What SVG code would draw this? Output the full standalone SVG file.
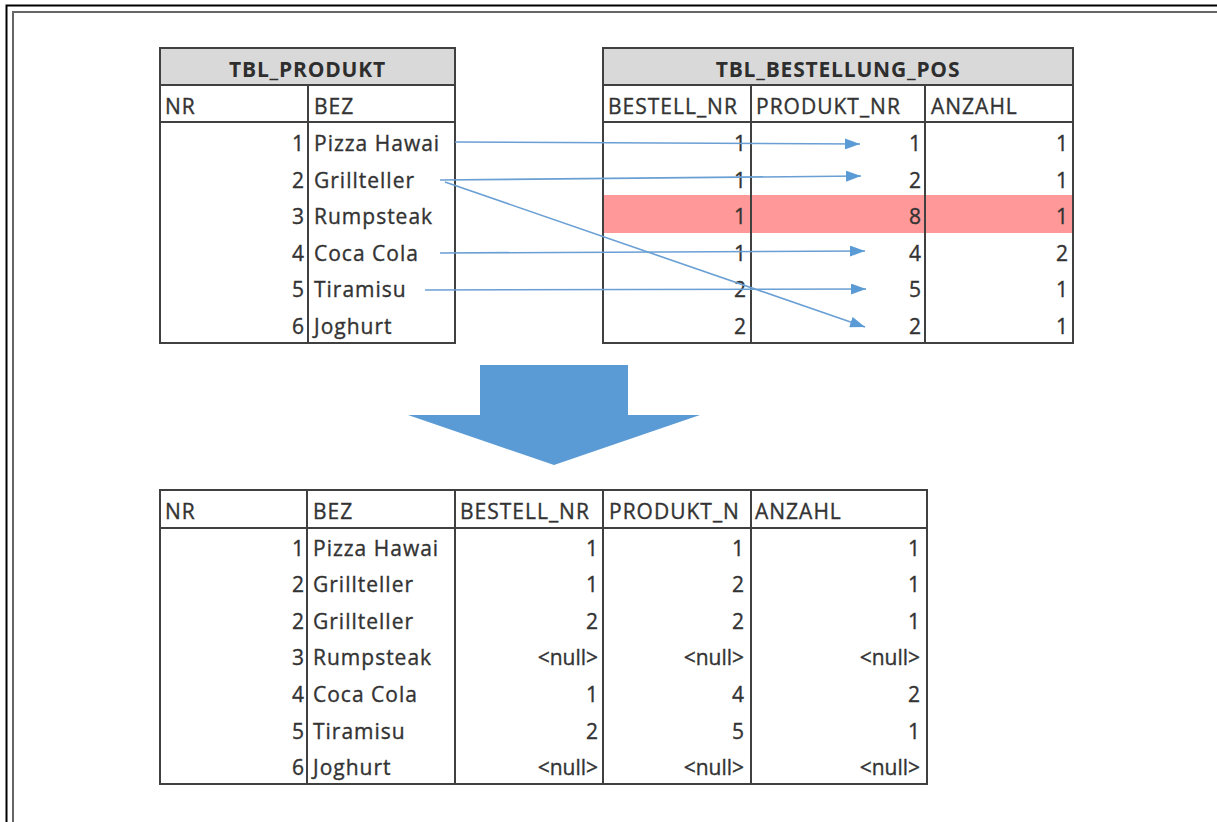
<svg xmlns="http://www.w3.org/2000/svg" width="1217" height="822" viewBox="0 0 1217 822">
  <style>
    .grid { fill: none; stroke: #404040; stroke-width: 2; }
    .rule { stroke: #404040; stroke-width: 2; }
    .hdr { fill: #d9d9d9; }
    .hit { fill: #ff9999; }
    text { font-family: "Open Sans", "Liberation Sans", sans-serif; font-size: 21px; fill: #333333; stroke: #333333; stroke-width: 0.35px; letter-spacing: 1px; }
    .title { font-weight: bold; fill: #2e2e2e; stroke: none; text-anchor: middle; letter-spacing: 0.8px; }
    .num { text-anchor: end; letter-spacing: 0; }
    .link { stroke: #6a9fd4; stroke-width: 1.6; fill: none; marker-end: url(#tri); }
  </style>
  <defs>
    <marker id="tri" viewBox="0 0 15 11" refX="15" refY="5.5" markerWidth="15" markerHeight="11" markerUnits="userSpaceOnUse" orient="auto">
      <path d="M0,0 L15,5.5 L0,11 Z" fill="#5b9bd5"/>
    </marker>
  </defs>

  <rect width="1217" height="822" fill="#ffffff"/>

  <!-- page frame -->
  <g id="frame">
    <path d="M1217,5.5 H6.5 V822" fill="none" stroke="#000000" stroke-width="2"/>
    <path d="M1217,12 H13 V822" fill="none" stroke="#666666" stroke-width="2"/>
  </g>

  <!-- TBL_PRODUKT -->
  <g id="tbl-produkt">
    <rect class="hdr" x="160" y="48" width="295" height="37"/>
    <rect class="grid" x="160" y="48" width="295" height="295"/>
    <line class="rule" x1="160" y1="85" x2="455" y2="85"/>
    <line class="rule" x1="160" y1="122" x2="455" y2="122"/>
    <line class="rule" x1="308" y1="85" x2="308" y2="343"/>
    <text class="title" x="307.5" y="76.5">TBL_PRODUKT</text>
    <text x="165" y="114">NR</text>
    <text x="314" y="114">BEZ</text>
    <text class="num" x="304" y="151">1</text><text x="314" y="151">Pizza Hawai</text>
    <text class="num" x="304" y="187.6">2</text><text x="314" y="187.6">Grillteller</text>
    <text class="num" x="304" y="224.2">3</text><text x="314" y="224.2">Rumpsteak</text>
    <text class="num" x="304" y="260.8">4</text><text x="314" y="260.8">Coca Cola</text>
    <text class="num" x="304" y="297.4">5</text><text x="314" y="297.4">Tiramisu</text>
    <text class="num" x="304" y="334">6</text><text x="314" y="334">Joghurt</text>
  </g>

  <!-- TBL_BESTELLUNG_POS -->
  <g id="tbl-bestellung-pos">
    <rect class="hdr" x="603" y="48" width="470" height="37"/>
    <rect class="hit" x="603" y="195" width="470" height="38"/>
    <rect class="grid" x="603" y="48" width="470" height="295"/>
    <line class="rule" x1="603" y1="85" x2="1073" y2="85"/>
    <line class="rule" x1="603" y1="122" x2="1073" y2="122"/>
    <line class="rule" x1="751" y1="85" x2="751" y2="343"/>
    <line class="rule" x1="925" y1="85" x2="925" y2="343"/>
    <text class="title" x="838" y="76.5">TBL_BESTELLUNG_POS</text>
    <text x="608" y="114">BESTELL_NR</text>
    <text x="756" y="114">PRODUKT_NR</text>
    <text x="931" y="114">ANZAHL</text>
    <text class="num" x="746" y="151">1</text><text class="num" x="921" y="151">1</text><text class="num" x="1068" y="151">1</text>
    <text class="num" x="746" y="187.6">1</text><text class="num" x="921" y="187.6">2</text><text class="num" x="1068" y="187.6">1</text>
    <text class="num" x="746" y="224.2">1</text><text class="num" x="921" y="224.2">8</text><text class="num" x="1068" y="224.2">1</text>
    <text class="num" x="746" y="260.8">1</text><text class="num" x="921" y="260.8">4</text><text class="num" x="1068" y="260.8">2</text>
    <text class="num" x="746" y="297.4">2</text><text class="num" x="921" y="297.4">5</text><text class="num" x="1068" y="297.4">1</text>
    <text class="num" x="746" y="334">2</text><text class="num" x="921" y="334">2</text><text class="num" x="1068" y="334">1</text>
  </g>

  <!-- foreign key links -->
  <g id="connectors">
    <line class="link" x1="455" y1="142" x2="860" y2="144"/>
    <line class="link" x1="440" y1="180" x2="861" y2="176"/>
    <line class="link" x1="445" y1="182" x2="865" y2="327"/>
    <line class="link" x1="440" y1="253" x2="865" y2="251"/>
    <line class="link" x1="425" y1="290" x2="866" y2="289"/>
  </g>

  <!-- join result arrow -->
  <g id="join-arrow">
    <polygon points="480,365 628,365 628,415 700,415 554,465 408,415 480,415" fill="#5b9bd5"/>
  </g>

  <!-- LEFT JOIN result -->
  <g id="tbl-result">
    <rect class="grid" x="160" y="490" width="767" height="294"/>
    <line class="rule" x1="160" y1="528" x2="927" y2="528"/>
    <line class="rule" x1="307" y1="490" x2="307" y2="784"/>
    <line class="rule" x1="455" y1="490" x2="455" y2="784"/>
    <line class="rule" x1="603" y1="490" x2="603" y2="784"/>
    <line class="rule" x1="751" y1="490" x2="751" y2="784"/>
    <text x="165" y="519">NR</text>
    <text x="313" y="519">BEZ</text>
    <text x="460" y="519">BESTELL_NR</text>
    <text x="609" y="519">PRODUKT_N</text>
    <text x="755" y="519">ANZAHL</text>

    <text class="num" x="304" y="555.5">1</text><text x="313" y="555.5">Pizza Hawai</text>
    <text class="num" x="598" y="555.5">1</text><text class="num" x="744" y="555.5">1</text><text class="num" x="920" y="555.5">1</text>

    <text class="num" x="304" y="592">2</text><text x="313" y="592">Grillteller</text>
    <text class="num" x="598" y="592">1</text><text class="num" x="744" y="592">2</text><text class="num" x="920" y="592">1</text>

    <text class="num" x="304" y="628.7">2</text><text x="313" y="628.7">Grillteller</text>
    <text class="num" x="598" y="628.7">2</text><text class="num" x="744" y="628.7">2</text><text class="num" x="920" y="628.7">1</text>

    <text class="num" x="304" y="665.3">3</text><text x="313" y="665.3">Rumpsteak</text>
    <text class="num" x="598" y="665.3">&lt;null&gt;</text><text class="num" x="744" y="665.3">&lt;null&gt;</text><text class="num" x="920" y="665.3">&lt;null&gt;</text>

    <text class="num" x="304" y="702">4</text><text x="313" y="702">Coca Cola</text>
    <text class="num" x="598" y="702">1</text><text class="num" x="744" y="702">4</text><text class="num" x="920" y="702">2</text>

    <text class="num" x="304" y="738.5">5</text><text x="313" y="738.5">Tiramisu</text>
    <text class="num" x="598" y="738.5">2</text><text class="num" x="744" y="738.5">5</text><text class="num" x="920" y="738.5">1</text>

    <text class="num" x="304" y="775">6</text><text x="313" y="775">Joghurt</text>
    <text class="num" x="598" y="775">&lt;null&gt;</text><text class="num" x="744" y="775">&lt;null&gt;</text><text class="num" x="920" y="775">&lt;null&gt;</text>
  </g>
</svg>
